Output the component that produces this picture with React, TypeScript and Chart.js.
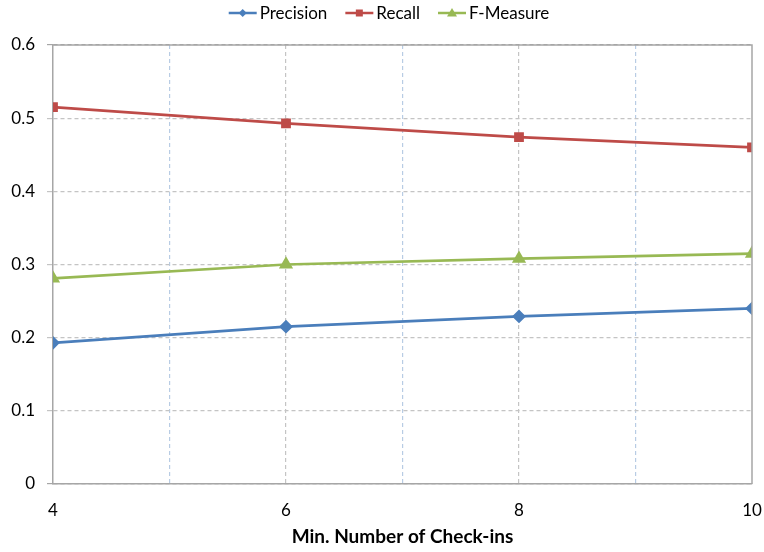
import React, { useEffect, useRef } from "react";
import { Chart, registerables } from "chart.js";

Chart.register(...registerables);

const checkIns = [4, 6, 8, 10];
const precision = [0.193, 0.215, 0.229, 0.24];
const recall = [0.515, 0.493, 0.474, 0.46];
const fMeasure = [0.281, 0.3, 0.308, 0.315];
const seriesNames = ["Precision", "Recall", "F-Measure"];
const xTitle = "Min. Number of Check-ins";

const FONT = "Lato, 'Open Sans', sans-serif";
const colors = ["#4a7ebb", "#be4b48", "#98b954"];
const styles = ["rectRot", "rect", "triangle"];

const legendPlugin = {
  id: "customLegend",
  afterDraw(chart: any) {
    const ctx = chart.ctx;
    const ca = chart.chartArea;
    ctx.save();
    ctx.strokeStyle = "#a6a6a6";
    ctx.lineWidth = 1.5;
    ctx.beginPath();
    ctx.moveTo(ca.left, ca.top);
    ctx.lineTo(ca.right, ca.top);
    ctx.lineTo(ca.right, ca.bottom);
    ctx.stroke();

    ctx.font = `17px ${FONT}`;
    ctx.textBaseline = "middle";
    const lineLen = 28;
    const gap = 3;
    const spacing = 18;
    const widths = seriesNames.map((n) => lineLen + gap + ctx.measureText(n).width);
    const total = widths.reduce((a, b) => a + b, 0) + spacing * (seriesNames.length - 1);
    let x = 389 - total / 2;
    const y = 13;
    seriesNames.forEach((n, i) => {
      ctx.strokeStyle = colors[i];
      ctx.lineWidth = 2.5;
      ctx.beginPath();
      ctx.moveTo(x, y);
      ctx.lineTo(x + lineLen, y);
      ctx.stroke();
      ctx.fillStyle = colors[i];
      const cx = x + lineLen / 2;
      ctx.beginPath();
      if (styles[i] === "rectRot") {
        ctx.moveTo(cx, y - 4);
        ctx.lineTo(cx + 4, y);
        ctx.lineTo(cx, y + 4);
        ctx.lineTo(cx - 4, y);
      } else if (styles[i] === "rect") {
        ctx.rect(cx - 3.5, y - 3.5, 7, 7);
      } else {
        ctx.moveTo(cx, y - 5);
        ctx.lineTo(cx + 5, y + 3.5);
        ctx.lineTo(cx - 5, y + 3.5);
      }
      ctx.closePath();
      ctx.fill();
      ctx.fillStyle = "#000";
      ctx.fillText(n, x + lineLen + gap, y + 1);
      x += widths[i] + spacing;
    });
    ctx.restore();
  },
};

export default function App() {
  const ref = useRef<HTMLCanvasElement>(null);
  useEffect(() => {
    document.body.style.margin = "0";
    const mk = (label: string, vals: number[], i: number, r: number) => ({
      label,
      data: checkIns.map((x, k) => ({ x, y: vals[k] })),
      borderColor: colors[i],
      backgroundColor: colors[i],
      pointBackgroundColor: colors[i],
      pointBorderColor: colors[i],
      pointStyle: styles[i],
      pointRadius: r,
      borderWidth: 2.7,
      tension: 0,
    });
    const chart = new Chart(ref.current!, {
      type: "line",
      data: {
        datasets: [
          mk(seriesNames[0], precision, 0, 5),
          mk(seriesNames[1], recall, 1, 5),
          mk(seriesNames[2], fMeasure, 2, 5.5),
        ],
      },
      options: {
        animation: false,
        responsive: false,
        layout: { padding: { top: 45, right: 12, left: 0, bottom: 0 } },
        plugins: { legend: { display: false }, tooltip: { enabled: false } },
        scales: {
          x: {
            type: "linear",
            min: 4,
            max: 10,
            afterFit: (s: any) => {
              s.height = 68;
              s.paddingLeft = 0;
              s.paddingRight = 0;
            },
            ticks: {
              stepSize: 1,
              autoSkip: false,
              maxRotation: 0,
              padding: 16,
              color: "#000",
              font: { family: FONT, size: 17 },
              callback: (v: any) => (Number(v) % 2 === 0 ? String(v) : ""),
            },
            grid: {
              drawTicks: false,
              color: (c: any) => {
                const v = c.tick ? c.tick.value : 0;
                if (v === 4 || v === 10) return "rgba(0,0,0,0)";
                return v % 2 === 1 ? "#b8cce4" : "#c4c4c4";
              },
              lineWidth: 1.2,
            },
            border: { display: true, color: "#a6a6a6", width: 1.5, dash: [4, 3] },
            title: {
              display: true,
              text: xTitle,
              color: "#000",
              font: { family: FONT, size: 19, weight: "bold" },
              padding: { top: 1 },
            },
          },
          y: {
            min: 0,
            max: 0.6,
            afterFit: (s: any) => {
              s.width = 53;
            },
            ticks: {
              stepSize: 0.1,
              padding: 12,
              color: "#000",
              font: { family: FONT, size: 17 },
              callback: (v: any) => (Number(v) === 0 ? "0" : Number(v).toFixed(1)),
            },
            grid: {
              drawTicks: true,
              tickLength: 6,
              color: (c: any) => {
                const v = c.tick ? c.tick.value : 0;
                if (Math.abs(v) < 1e-9 || Math.abs(v - 0.6) < 1e-9) return "#a6a6a6";
                return "#c4c4c4";
              },
              lineWidth: 1.2,
            },
            border: { display: true, color: "#a6a6a6", width: 1.5, dash: [4, 3] },
          },
        },
      },
      plugins: [legendPlugin],
    } as any);
    return () => chart.destroy();
  }, []);
  return (
    <div style={{ position: "fixed", left: 0, top: 0, width: 764, height: 552 }}>
      <canvas ref={ref} width={764} height={552} style={{ width: 764, height: 552 }} />
    </div>
  );
}
